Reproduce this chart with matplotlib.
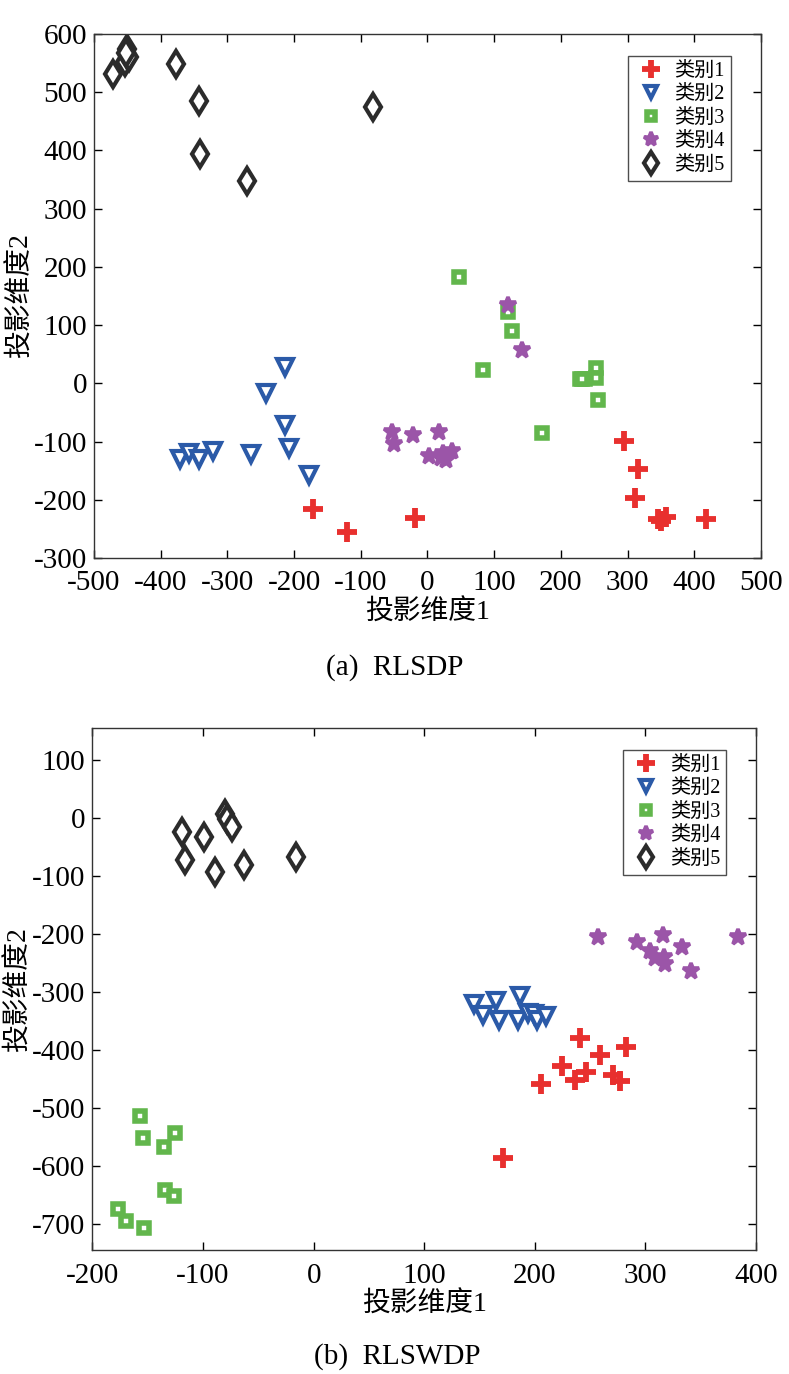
import matplotlib
matplotlib.use("Agg")
import matplotlib.pyplot as plt
import numpy as np

plt.rcParams['font.family'] = ['Liberation Serif', 'Noto Sans CJK SC', 'DejaVu Sans']
plt.rcParams['axes.unicode_minus'] = False

labels = ['类别1', '类别2', '类别3', '类别4', '类别5']
colors = ['#E8302E', '#2B5AA8', '#62B64C', '#9B55A8', '#2B2B2B']
markers = ['P', 'v', 's', '*', 'd']

# (a) RLSDP
a_x = [
    [-171, -120, -19, 295, 316, 311, 346, 357, 350, 418],
    [-371, -358, -343, -321, -265, -242, -214, -213, -208, -178],
    [48, 120, 126, 83, 228, 236, 232, 253, 253, 256, 172],
    [120, 141, -53, -50, -21, 18, 2, 24, 28, 37, 20],
    [-472, -453, -451, -447, -452, -377, -343, -341, -270, -82],
]
a_y = [
    [-216, -256, -232, -99, -147, -197, -233, -229, -236, -233],
    [-130, -120, -130, -116, -121, -17, 28, -72, -111, -158],
    [183, 123, 89, 23, 7, 7, 8, 26, 9, -29, -85],
    [134, 57, -84, -105, -89, -84, -124, -120, -132, -117, -129],
    [532, 552, 574, 561, 567, 548, 485, 394, 348, 474],
]

# (b) RLSWDP
b_x = [
    [241, 259, 282, 225, 236, 246, 271, 277, 206, 171],
    [145, 153, 165, 168, 187, 185, 194, 199, 202, 210],
    [-157, -154, -125, -135, -134, -126, -177, -170, -153],
    [257, 292, 304, 309, 316, 317, 318, 333, 341, 384],
    [-119, -99, -116, -89, -80, -78, -74, -63, -16],
]
b_y = [
    [-380, -408, -395, -428, -451, -438, -444, -453, -458, -586],
    [-321, -339, -316, -348, -307, -348, -336, -338, -348, -341],
    [-513, -552, -543, -568, -642, -652, -675, -695, -707],
    [-205, -214, -230, -241, -202, -239, -252, -222, -264, -205],
    [-24, -33, -73, -93, 7, -1, -15, -81, -68],
]

fig = plt.figure(figsize=(7.89, 13.74), dpi=100)
ax1 = fig.add_axes([0.1191, 0.5939, 0.8454, 0.3814])
ax2 = fig.add_axes([0.1172, 0.0902, 0.8410, 0.3799])


def draw(ax, xs, ys):
    for i in range(5):
        if markers[i] == 'P':
            ax.plot(xs[i], ys[i], linestyle='none', marker='+', markersize=15,
                    markeredgewidth=4.2, color=colors[i], label=labels[i])
        elif markers[i] == 's':
            ax.plot(xs[i], ys[i], linestyle='none', marker='s', markersize=7.5,
                    markeredgewidth=4, markerfacecolor='white',
                    markeredgecolor=colors[i], label=labels[i])
        elif markers[i] == 'd':
            ax.plot(xs[i], ys[i], linestyle='none', marker='d', markersize=13,
                    markeredgewidth=3, markerfacecolor='white',
                    markeredgecolor=colors[i], label=labels[i])
        elif markers[i] == '*':
            ax.plot(xs[i], ys[i], linestyle='none', marker='*', markersize=12,
                    markeredgewidth=2.6, markerfacecolor=colors[i],
                    markeredgecolor=colors[i], label=labels[i])
        else:
            ax.plot(xs[i], ys[i], linestyle='none', marker='v', markersize=11,
                    markeredgewidth=3, markerfacecolor='white',
                    markeredgecolor=colors[i], label=labels[i])
    ax.tick_params(direction='in', length=6, width=1, top=True, right=True,
                   labelsize=21)
    ax.tick_params(axis='x', pad=9)
    ax.tick_params(axis='y', pad=5)
    for s in ax.spines.values():
        s.set_linewidth(1)
        s.set_color('#333333')
    ax.set_xlabel('投影维度1', fontsize=20, labelpad=2)
    ax.set_ylabel('投影维度2', fontsize=20, labelpad=0)
    leg = ax.legend(loc='upper right', bbox_to_anchor=(0.97, 0.978), fontsize=14.5,
                    frameon=True, fancybox=False, edgecolor='#222222',
                    handletextpad=0.3, labelspacing=0.22, borderpad=0.3,
                    handlelength=1.7, markerscale=0.85)
    leg.get_frame().set_linewidth(1)


draw(ax1, a_x, a_y)
ax1.set_xlim(-500, 500)
ax1.set_ylim(-300, 600)
ax1.set_xticks(np.arange(-500, 501, 100))
ax1.set_yticks(np.arange(-300, 601, 100))

draw(ax2, b_x, b_y)
ax2.set_xlim(-200, 400)
ax2.set_ylim(-745, 155)
ax2.set_xticks(np.arange(-200, 401, 100))
ax2.set_yticks(np.arange(-700, 101, 100))

fig.text(0.500, 1 - 668 / 1374, '(a)  RLSDP', ha='center', va='center', fontsize=21)
fig.text(0.504, 1 - 1357 / 1374, '(b)  RLSWDP', ha='center', va='center', fontsize=21)

fig.savefig('out.png', dpi=100)
